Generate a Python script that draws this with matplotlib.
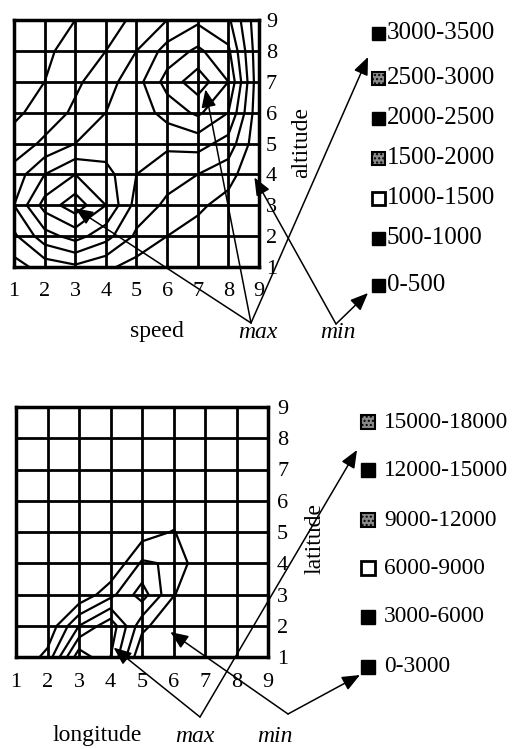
import numpy as np
import matplotlib.pyplot as plt
from matplotlib.patches import Rectangle

plt.rcParams['font.family'] = ['Liberation Serif', 'DejaVu Serif']

ticks = np.arange(1, 10)

# counts on the speed/altitude grid, row 0 = altitude 1 ... row 8 = altitude 9
speed_alt = np.array([
    [300, 700, 900, 600, 300, 100, 0, 0, 0],
    [900, 1800, 2200, 1700, 900, 500, 300, 100, 0],
    [1500, 2700, 3300, 2500, 1300, 900, 600, 300, 0],
    [1200, 2000, 2500, 2200, 1500, 1200, 1000, 700, 0],
    [700, 1100, 1500, 1700, 1600, 1600, 1700, 1300, 100],
    [400, 700, 1100, 1500, 1700, 2200, 2600, 2000, 100],
    [300, 500, 900, 1300, 1800, 2700, 3300, 2500, 100],
    [200, 400, 700, 1000, 1500, 2200, 2600, 2100, 100],
    [200, 300, 500, 800, 1100, 1500, 1900, 1600, 100],
])
speed_levels = [500, 1000, 1500, 2000, 2500, 3000]
speed_legend = ['3000-3500', '2500-3000', '2000-2500', '1500-2000',
                '1000-1500', '500-1000', '0-500']
speed_fill = ['black', 'dots', 'black', 'dots', 'white', 'black', 'black']
speed_max = [(3.0, 2.9), (7.25, 6.75)]
speed_min = [(8.85, 3.9)]

# counts on the longitude/latitude grid, row 0 = latitude 1
lon_lat = np.array([
    [0, 4000, 17000, 12000, 0, 0, 0, 0, 0],
    [0, 500, 9000, 14000, 4000, 0, 0, 0, 0],
    [0, 0, 500, 5000, 10500, 3200, 0, 0, 0],
    [0, 0, 0, 0, 6500, 5500, 0, 0, 0],
    [0, 0, 0, 0, 1500, 3200, 0, 0, 0],
    [0, 0, 0, 0, 0, 0, 0, 0, 0],
    [0, 0, 0, 0, 0, 0, 0, 0, 0],
    [0, 0, 0, 0, 0, 0, 0, 0, 0],
    [0, 0, 0, 0, 0, 0, 0, 0, 0],
])
lon_levels = [3000, 6000, 9000, 12000, 15000]
lon_legend = ['15000-18000', '12000-15000', '9000-12000', '6000-9000',
              '3000-6000', '0-3000']
lon_fill = ['dots', 'black', 'dots', 'white', 'black', 'black']
lon_max = [(4.1, 1.3)]
lon_min = [(5.9, 1.8)]

fig = plt.figure(figsize=(5.13, 7.49), dpi=100)
W, H = 513, 749


def panel(rect, z, levels, xpad, ypad):
    l, t, r, b = rect
    ax = fig.add_axes([l / W, 1 - b / H, (r - l) / W, (b - t) / H])
    ax.contour(ticks, ticks, z, levels=levels, colors='black', linewidths=1.6)
    ax.set_xlim(1, 9)
    ax.set_ylim(1, 9)
    ax.set_xticks(ticks)
    ax.set_yticks(ticks)
    ax.yaxis.tick_right()
    ax.grid(True, color='black', lw=2.0)
    ax.tick_params(axis='x', length=0, labelsize=16, pad=xpad)
    ax.tick_params(axis='y', length=0, labelsize=16, pad=ypad)
    for s in ax.spines.values():
        s.set_linewidth(2.5)
    return ax


ax1 = panel((14, 20, 259, 267), speed_alt, speed_levels, 10.5, 5)
ax2 = panel((16, 407, 268, 657), lon_lat, lon_levels, 11.5, 6.5)

# overlay in pixel units for labels, legend boxes and arrows
ov = fig.add_axes([0, 0, 1, 1])
ov.set_xlim(0, W)
ov.set_ylim(H, 0)
ov.axis('off')

fs = 17
ov.text(157, 332, 'speed', fontsize=fs, ha='center', va='center')
ov.text(258, 333, 'max', fontsize=fs, style='italic', ha='center', va='center')
ov.text(338, 333, 'min', fontsize=fs, style='italic', ha='center', va='center')
ov.text(302, 143, 'altitude', fontsize=fs, rotation=90, ha='center', va='center')

ov.text(97, 736, 'longitude', fontsize=fs, ha='center', va='center')
ov.text(195, 736, 'max', fontsize=fs, style='italic', ha='center', va='center')
ov.text(275, 736, 'min', fontsize=fs, style='italic', ha='center', va='center')
ov.text(315, 538, 'latitude', fontsize=fs, rotation=90, ha='center', va='center')


def legend(x_box, x_text, ys, labels, fills, size, tsize):
    for y, lab, f in zip(ys, labels, fills):
        if f == 'black':
            p = Rectangle((x_box, y - size / 2), size, size, fc='black', ec='black', lw=1)
        elif f == 'white':
            p = Rectangle((x_box, y - size / 2), size, size, fc='white', ec='black', lw=2)
        else:
            p = Rectangle((x_box, y - size / 2), size, size, fc='#8a8a8a', ec='black',
                          lw=1.5, hatch='....')
        ov.add_patch(p)
        ov.text(x_text, y, lab, fontsize=tsize, ha='left', va='center')


legend(372, 387, [33, 78, 118, 158, 198, 238, 285], speed_legend, speed_fill, 13, 18)
legend(361, 384, [422, 470, 520, 568, 617, 667], lon_legend, lon_fill, 14, 16.8)

arrow = dict(arrowstyle='-|>,head_length=0.6,head_width=0.25', color='black',
             lw=1.1, mutation_scale=18, shrinkA=0, shrinkB=0)


def point(ax, pts, tail):
    for p in pts:
        ov.annotate('', xy=p, xycoords=ax.transData, xytext=tail,
                    textcoords='data', arrowprops=arrow)


point(ax1, speed_max, (251, 323))
point(ax1, speed_min, (336, 324))
ov.annotate('', xy=(368, 57), xytext=(251, 323), arrowprops=arrow)
ov.annotate('', xy=(368, 293), xytext=(336, 324), arrowprops=arrow)

point(ax2, lon_max, (200, 717))
point(ax2, lon_min, (288, 714))
ov.annotate('', xy=(357, 450), xytext=(200, 717), arrowprops=arrow)
ov.annotate('', xy=(360, 675), xytext=(288, 714), arrowprops=arrow)

fig.savefig('out.png', dpi=100)
